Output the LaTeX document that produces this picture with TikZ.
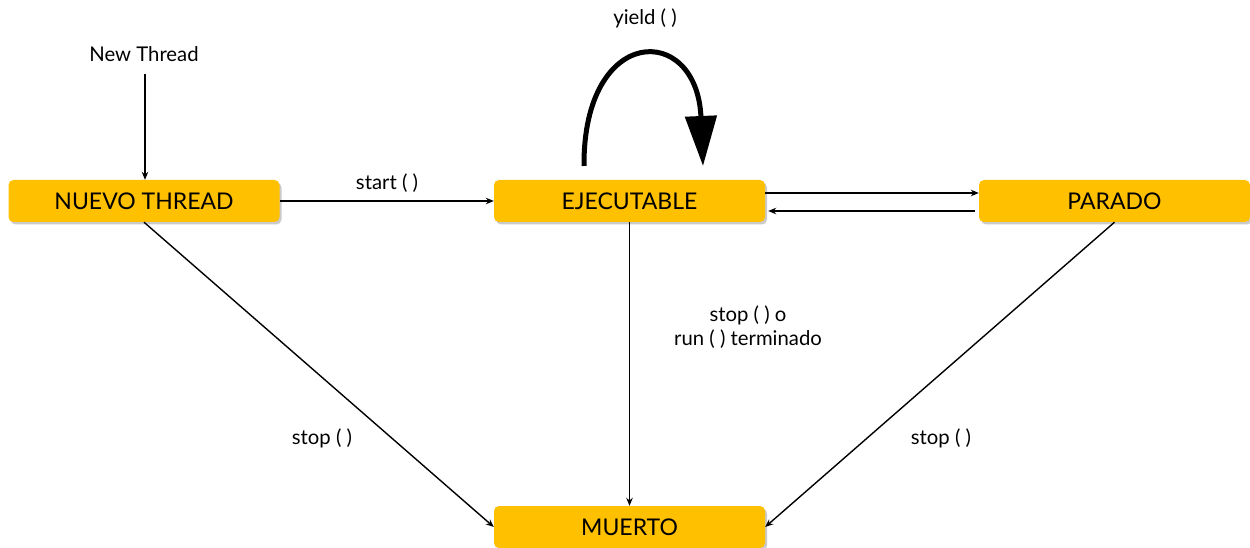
\documentclass[tikz,border=0pt]{standalone}
\usepackage{fontspec}
\setmainfont{Lato}
\usetikzlibrary{arrows.meta,shadows}
\definecolor{boxyellow}{HTML}{FFC000}
\tikzset{
  statebox/.style={rectangle, rounded corners=5pt, fill=boxyellow, minimum width=271pt, minimum height=42pt, inner sep=0pt, font=\fontsize{23}{27}\selectfont, text=black,
    drop shadow={shadow xshift=2pt, shadow yshift=-2.5pt, opacity=0.35, fill=black!60}},
  lbl/.style={font=\fontsize{20.3}{24}\selectfont, inner sep=0pt, align=center},
  conn/.style={line width=1.4pt, -{Stealth[length=8pt,width=6.5pt]}}
}
\begin{document}
\begin{tikzpicture}[x=1pt,y=-1pt]
\useasboundingbox (0,0) rectangle (1250,548);
\node[statebox] (nuevo) at (144,201) {NUEVO THREAD};
\node[statebox] (ejec) at (629.5,201) {EJECUTABLE};
\node[statebox] (parado) at (1114.5,201) {PARADO};
\node[statebox] (muerto) at (629.5,527) {MUERTO};
\node[lbl] (nt) at (144,54) {New Thread};
\coordinate (ntstart) at (145,74);
\node[lbl] (startl) at (387,183) {start ( )};
\node[lbl] (yieldl) at (645,18) {yield ( )};
\node[lbl] (stopej) at (748,327) {stop ( ) o\\[0pt]run ( ) terminado};
\node[lbl] (stopl) at (322,438) {stop ( )};
\node[lbl] (stopr) at (941,438) {stop ( )};
\coordinate (ya) at (584,166);
\coordinate (yb) at (703,166);
\draw[conn] (ntstart) -- (nuevo.north -| ntstart);
\draw[conn] (nuevo.east) -- (ejec.west);
\draw[conn] ([yshift=8pt]ejec.east) -- ([yshift=8pt]parado.west);
\draw[conn] ([yshift=-10pt,xshift=-4pt]parado.west) -- ([yshift=-10pt,xshift=3pt]ejec.east);
\draw[conn] (ejec.south) -- (muerto.north);
\draw[conn] (nuevo.south) -- (muerto.west);
\draw[conn] (parado.south) -- (muerto.east);
\draw[line width=5pt, -{Triangle[length=50pt,width=31pt]}] (ya) .. controls (583,24) and (697,22) .. (yb);
\end{tikzpicture}
\end{document}
